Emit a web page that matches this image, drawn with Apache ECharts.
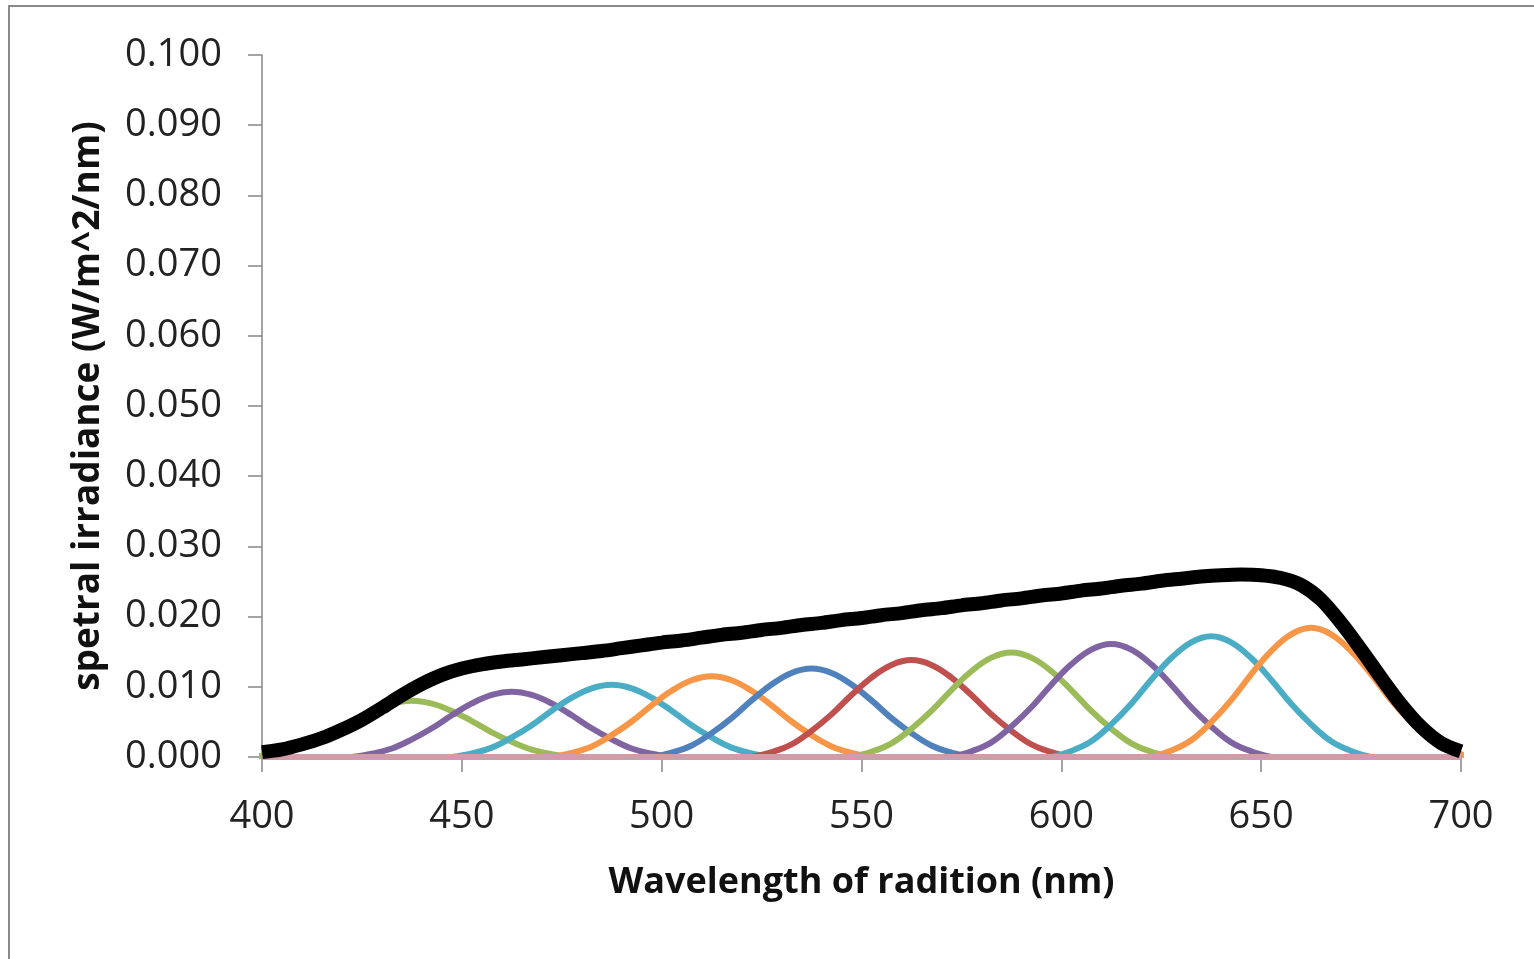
<!DOCTYPE html>
<html>
<head>
<meta charset="utf-8">
<title>Spectral irradiance</title>
<script src="https://cdn.jsdelivr.net/npm/echarts@6/dist/echarts.min.js"></script>
<style>
  html, body { margin: 0; padding: 0; background: #ffffff; }
  #chart { width: 1534px; height: 959px; }
</style>
</head>
<body>
<div id="chart"></div>
<script>
// Total source spectrum, sampled every 5 nm (W/m^2/nm)
const totalWavelengths = [
  400, 405, 410, 415, 420, 425, 430, 435, 440, 445,
  450, 455, 460, 465, 470, 475, 480, 485, 490, 495,
  500, 505, 510, 515, 520, 525, 530, 535, 540, 545,
  550, 555, 560, 565, 570, 575, 580, 585, 590, 595,
  600, 605, 610, 615, 620, 625, 630, 635, 640, 645,
  650, 655, 660, 665, 670, 675, 680, 685, 690, 695, 700
];
const totalIrradiance = [
  0.0007, 0.0011, 0.0018, 0.0027, 0.0039, 0.0053, 0.0070, 0.0088, 0.0104, 0.0117,
  0.0126, 0.0132, 0.0136, 0.0139, 0.0142, 0.0145, 0.0148, 0.0151, 0.0155, 0.0159,
  0.0163, 0.0166, 0.0170, 0.0174, 0.0177, 0.0181, 0.0184, 0.0188, 0.0191, 0.0195,
  0.0198, 0.0202, 0.0205, 0.0209, 0.0212, 0.0216, 0.0219, 0.0223, 0.0226, 0.0230,
  0.0233, 0.0237, 0.0240, 0.0244, 0.0247, 0.0251, 0.0254, 0.0257, 0.0259, 0.0260,
  0.0259, 0.0255, 0.0245, 0.0224, 0.0191, 0.0153, 0.0113, 0.0075, 0.0043, 0.0020, 0.0008
];

// Narrow bands: centre wavelengths and samples at centre-40 ... centre+40 nm, 5 nm apart
const bandCenters = [437.5, 462.5, 487.5, 512.5, 537.5, 562.5, 587.5, 612.5, 637.5, 662.5];
const bandOffsets = [-40, -35, -30, -25, -20, -15, -10, -5, 0, 5, 10, 15, 20, 25, 30, 35, 40];
const band1  = [0, 0.00040, 0.00104, 0.00216, 0.00352, 0.00512, 0.00656, 0.00760, 0.0080, 0.00760, 0.00656, 0.00512, 0.00352, 0.00216, 0.00104, 0.00040, 0];
const band2  = [0, 0.00047, 0.00121, 0.00251, 0.00409, 0.00595, 0.00763, 0.00884, 0.0093, 0.00884, 0.00763, 0.00595, 0.00409, 0.00251, 0.00121, 0.00047, 0];
const band3  = [0, 0.00052, 0.00134, 0.00278, 0.00453, 0.00659, 0.00845, 0.00979, 0.0103, 0.00979, 0.00845, 0.00659, 0.00453, 0.00278, 0.00134, 0.00052, 0];
const band4  = [0, 0.00058, 0.00150, 0.00311, 0.00506, 0.00736, 0.00943, 0.01093, 0.0115, 0.01093, 0.00943, 0.00736, 0.00506, 0.00311, 0.00150, 0.00058, 0];
const band5  = [0, 0.00063, 0.00164, 0.00340, 0.00554, 0.00806, 0.01033, 0.01197, 0.0126, 0.01197, 0.01033, 0.00806, 0.00554, 0.00340, 0.00164, 0.00063, 0];
const band6  = [0, 0.00069, 0.00179, 0.00373, 0.00607, 0.00883, 0.01132, 0.01311, 0.0138, 0.01311, 0.01132, 0.00883, 0.00607, 0.00373, 0.00179, 0.00069, 0];
const band7  = [0, 0.00075, 0.00194, 0.00402, 0.00656, 0.00954, 0.01222, 0.01416, 0.0149, 0.01416, 0.01222, 0.00954, 0.00656, 0.00402, 0.00194, 0.00075, 0];
const band8  = [0, 0.00081, 0.00209, 0.00435, 0.00708, 0.01030, 0.01320, 0.01530, 0.0161, 0.01530, 0.01320, 0.01030, 0.00708, 0.00435, 0.00209, 0.00081, 0];
const band9  = [0, 0.00086, 0.00224, 0.00464, 0.00757, 0.01101, 0.01410, 0.01634, 0.0172, 0.01634, 0.01410, 0.01101, 0.00757, 0.00464, 0.00224, 0.00086, 0];
const band10 = [0, 0.00092, 0.00239, 0.00497, 0.00810, 0.01178, 0.01509, 0.01748, 0.0184, 0.01748, 0.01509, 0.01178, 0.00810, 0.00497, 0.00239, 0.00092, 0];
const bandValues = [band1, band2, band3, band4, band5, band6, band7, band8, band9, band10];

// Zero reference line across the range
const baselineWavelengths = [400, 700];
const baselineValues = [0, 0];

// Axis ranges
const xMin = 400, xMax = 700, xStep = 50;
const yMin = 0, yMax = 0.1, yStep = 0.01;

const bandColors = ['#9BBB59', '#8064A2', '#4BACC6', '#F79646', '#4F81BD',
                    '#C0504D', '#9BBB59', '#8064A2', '#4BACC6', '#F79646'];

const series = [];
bandCenters.forEach((c, i) => {
  series.push({
    name: 'band ' + c,
    type: 'line',
    data: bandOffsets.map((o, k) => [c + o, bandValues[i][k]]),
    smooth: 0.4,
    showSymbol: false,
    lineStyle: { color: bandColors[i], width: 6 },
    itemStyle: { color: bandColors[i] },
    z: 2
  });
});
series.push({
  name: 'zero',
  type: 'line',
  data: baselineWavelengths.map((w, k) => [w, baselineValues[k]]),
  showSymbol: false,
  lineStyle: { color: '#D29BA8', width: 6 },
  z: 3
});
series.push({
  name: 'total',
  type: 'line',
  data: totalWavelengths.map((w, k) => [w, totalIrradiance[k]]),
  smooth: 0.3,
  showSymbol: false,
  lineStyle: { color: '#000000', width: 14, cap: 'butt' },
  z: 4
});

const axisGrey = '#868686';
const chart = echarts.init(document.getElementById('chart'), null, { renderer: 'canvas' });
chart.setOption({
  animation: false,
  backgroundColor: '#ffffff',
  grid: { left: 262, right: 73, top: 55, bottom: 202, containLabel: false },
  graphic: [{
    type: 'rect',
    shape: { x: 9, y: 6, width: 1600, height: 1000 },
    style: { fill: null, stroke: '#8a8a8a', lineWidth: 2 },
    silent: true
  }],
  xAxis: {
    type: 'value',
    min: xMin, max: xMax, interval: xStep,
    name: 'Wavelength of radition (nm)',
    nameLocation: 'middle',
    nameGap: 108,
    nameTextStyle: { fontFamily: 'Open Sans', fontWeight: 'bold', fontSize: 36, color: '#111' },
    axisLine: { show: true, lineStyle: { color: axisGrey, width: 1.5 } },
    axisTick: { show: true, inside: false, length: 15, lineStyle: { color: axisGrey, width: 1.5 } },
    axisLabel: { margin: 41, fontFamily: 'Open Sans', fontSize: 38, color: '#222' },
    splitLine: { show: false }
  },
  yAxis: {
    type: 'value',
    min: yMin, max: yMax, interval: yStep,
    name: 'spetral irradiance (W/m^2/nm)',
    nameLocation: 'middle',
    nameGap: 155,
    nameTextStyle: { fontFamily: 'Open Sans', fontWeight: 'bold', fontSize: 37, color: '#111' },
    axisLine: { show: true, lineStyle: { color: axisGrey, width: 1.5 } },
    axisTick: { show: true, inside: false, length: 14, lineStyle: { color: axisGrey, width: 1.5 } },
    axisLabel: {
      margin: 40, fontFamily: 'Open Sans', fontSize: 38, color: '#222',
      formatter: v => v.toFixed(3)
    },
    splitLine: { show: false }
  },
  series: series
});
</script>
</body>
</html>
